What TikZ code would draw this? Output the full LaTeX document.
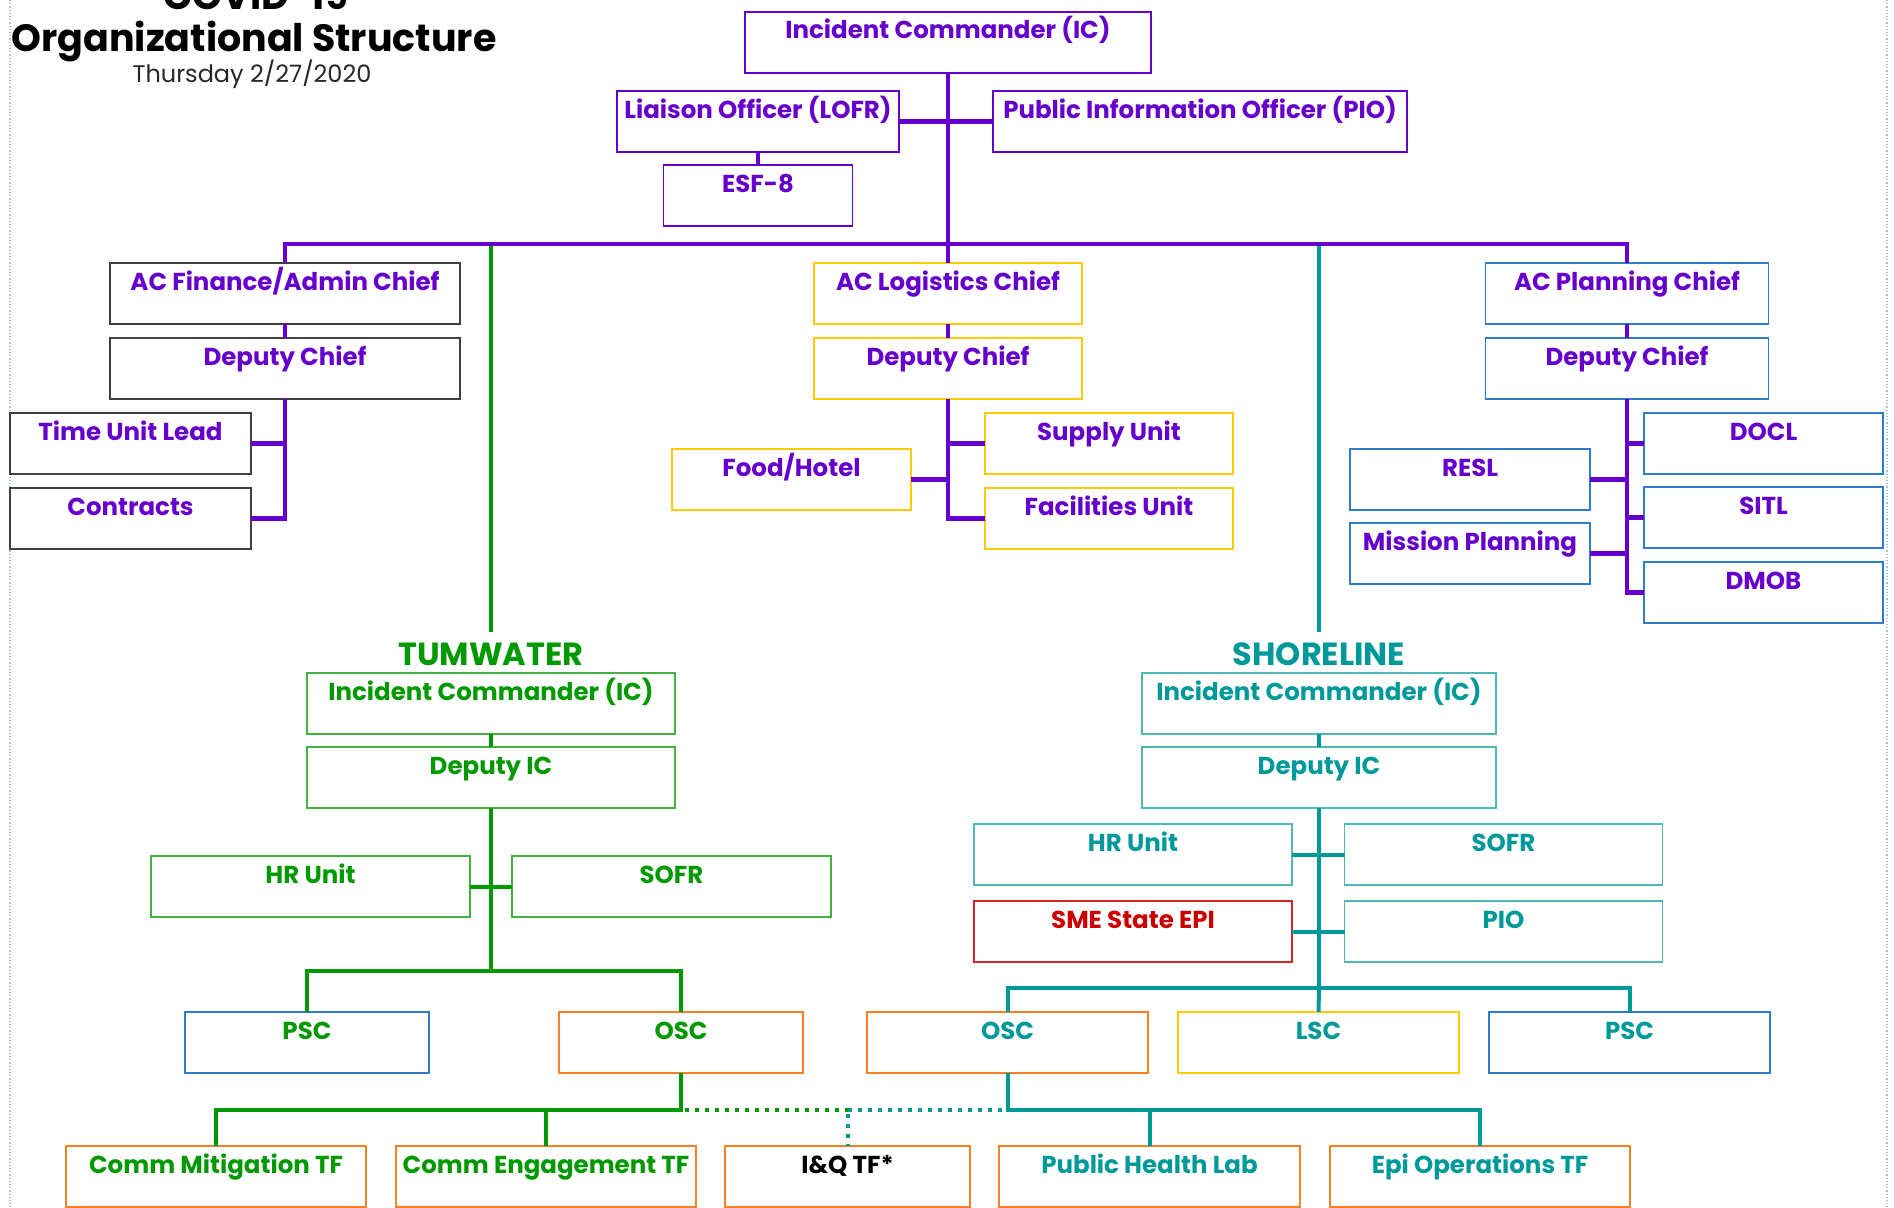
\documentclass[tikz,border=0pt]{standalone}
\usepackage{fontspec}
\setmainfont{Poppins}
\usetikzlibrary{positioning}

\definecolor{icpurple}{HTML}{6600CC}
\definecolor{twgreen}{HTML}{009900}
\definecolor{shteal}{HTML}{009999}
\definecolor{smered}{HTML}{CC0000}
\definecolor{logyellow}{HTML}{FFCC00}
\definecolor{planblue}{HTML}{2E7BCF}
\definecolor{oscorange}{HTML}{FF7F27}
\definecolor{finframe}{HTML}{404040}
\definecolor{pageblue}{HTML}{9DC3E6}

\begin{document}
\begin{tikzpicture}[
    x=1pt, y=-1pt,
    node distance=14pt,
    orgbox/.style={
        rectangle, line width=1.5pt, inner sep=0pt, outer sep=0pt,
        text height=27pt, text depth=34pt, anchor=north,
        font=\fontsize{24.5}{24.5}\selectfont\bfseries
    },
    cmdbox/.style={orgbox, draw=icpurple, text=icpurple},
    finbox/.style={orgbox, draw=finframe, text=icpurple},
    logbox/.style={orgbox, draw=logyellow, text=icpurple},
    planbox/.style={orgbox, draw=planblue, text=icpurple},
    twbox/.style={orgbox, draw=twgreen!75, text=twgreen},
    shbox/.style={orgbox, draw=shteal!70, text=shteal},
    tfbox/.style={orgbox, draw=oscorange},
    sitelabel/.style={inner sep=0pt, font=\fontsize{32}{32}\selectfont\bfseries},
    purpleline/.style={draw=icpurple, line width=4.5pt},
    greenline/.style={draw=twgreen, line width=4pt},
    tealline/.style={draw=shteal, line width=4pt},
    linkdots/.style={line width=4pt, dash pattern=on 4pt off 6pt},
    pageedge/.style={draw=pageblue, line width=1.2pt, dotted},
]

\useasboundingbox (0,0) rectangle (1894,1207);
\draw[pageedge] (10,0) -- (10,1207);
\draw[pageedge] (1887,0) -- (1887,1207);

% Title
\node[anchor=base, inner sep=0pt, font=\fontsize{38}{38}\selectfont\bfseries] (covid) at (256,10) {COVID-19};
\node[anchor=base, inner sep=0pt, font=\fontsize{38}{38}\selectfont\bfseries] (orgtitle) at (254,52) {Organizational Structure};
\node[anchor=base, inner sep=0pt, font=\fontsize{24}{24}\selectfont, text=black!85] (datestamp) at (252,82) {Thursday 2/27/2020};

% Command staff
\node[cmdbox, minimum width=406pt] (ic) at (948,12) {Incident Commander (IC)};
\node[cmdbox, minimum width=282pt] (lofr) at (758,91) {Liaison Officer (LOFR)};
\node[cmdbox, minimum width=414pt] (pio) at (1200,91) {Public Information Officer (PIO)};
\node[cmdbox, minimum width=189pt, below=13pt of lofr] (esf) {ESF-8};
\coordinate (mainbar) at (948,244);

% Finance/Admin
\node[finbox, minimum width=350pt] (fin) at (285,263) {AC Finance/Admin Chief};
\node[finbox, minimum width=350pt, below=of fin] (findep) {Deputy Chief};
\node[finbox, minimum width=241pt] (timeunit) at (130.5,413) {Time Unit Lead};
\node[finbox, minimum width=241pt, below=of timeunit] (contracts) {Contracts};

% Logistics
\node[logbox, minimum width=268pt] (logc) at (948,263) {AC Logistics Chief};
\node[logbox, minimum width=268pt, below=of logc] (logdep) {Deputy Chief};
\node[logbox, minimum width=248pt] (supply) at (1109,413) {Supply Unit};
\node[logbox, minimum width=248pt, below=of supply] (facil) {Facilities Unit};
\node[logbox, minimum width=239pt] (food) at (791.5,449) {Food/Hotel};

% Planning
\node[planbox, minimum width=283pt] (planc) at (1627,263) {AC Planning Chief};
\node[planbox, minimum width=283pt, below=of planc] (plandep) {Deputy Chief};
\node[planbox, minimum width=239pt] (docl) at (1763.5,413) {DOCL};
\node[planbox, minimum width=239pt, below=13pt of docl] (sitl) {SITL};
\node[planbox, minimum width=239pt, below=of sitl] (dmob) {DMOB};
\node[planbox, minimum width=240pt] (resl) at (1470,449) {RESL};
\node[planbox, minimum width=240pt, below=13pt of resl] (mission) {Mission Planning};

% Tumwater
\node[sitelabel, text=twgreen] (twlabel) at (491,654) {TUMWATER};
\node[twbox, minimum width=368pt] (twic) at (491,673) {Incident Commander (IC)};
\node[twbox, minimum width=368pt, below=13pt of twic] (twdep) {Deputy IC};
\node[twbox, minimum width=319pt] (twhr) at (310.5,856) {HR Unit};
\node[twbox, minimum width=319pt] (twsofr) at (671.5,856) {SOFR};
\node[twbox, draw=planblue, minimum width=244pt] (twpsc) at (307,1012) {PSC};
\node[twbox, draw=oscorange, minimum width=244pt] (twosc) at (681,1012) {OSC};
\coordinate (twbar) at (491,971);

% Shoreline
\node[sitelabel, text=shteal] (shlabel) at (1319,654) {SHORELINE};
\node[shbox, minimum width=354pt] (shic) at (1319,673) {Incident Commander (IC)};
\node[shbox, minimum width=354pt, below=13pt of shic] (shdep) {Deputy IC};
\node[shbox, minimum width=318pt] (shhr) at (1133,824) {HR Unit};
\node[shbox, minimum width=318pt] (shsofr) at (1503.5,824) {SOFR};
\node[shbox, draw=smered!85, text=smered, minimum width=318pt] (shsme) at (1133,901) {SME State EPI};
\node[shbox, minimum width=318pt] (shpio) at (1503.5,901) {PIO};
\node[shbox, draw=oscorange, minimum width=281pt] (shosc) at (1007.5,1012) {OSC};
\node[shbox, draw=logyellow, minimum width=281pt] (shlsc) at (1318.5,1012) {LSC};
\node[shbox, draw=planblue, minimum width=281pt] (shpsc) at (1629.5,1012) {PSC};
\coordinate (shbar) at (1319,988);

% Task forces
\coordinate (tfbar) at (0,1110);
\node[tfbox, text=twgreen, minimum width=300pt] (cmtf) at (216,1146) {Comm Mitigation TF};
\node[tfbox, text=twgreen, minimum width=300pt] (cetf) at (546,1146) {Comm Engagement TF};
\node[tfbox, text=black, minimum width=245pt] (iqtf) at (847.5,1146) {I\&Q TF*};
\node[tfbox, text=shteal, minimum width=301pt] (phl) at (1149.5,1146) {Public Health Lab};
\node[tfbox, text=shteal, minimum width=300pt] (epitf) at (1480,1146) {Epi Operations TF};

% Connectors
\draw[greenline] (twlabel.north |- mainbar) -- ([yshift=10pt]twlabel.north);
\draw[tealline] (shlabel.north |- mainbar) -- ([yshift=10pt]shlabel.north);

\draw[purpleline] (ic) -- (mainbar);
\draw[purpleline] (lofr) -- (pio);
\draw[purpleline] (lofr) -- (esf);
\draw[purpleline] (fin.north) |- (planc.north |- mainbar) -- (planc.north);
\draw[purpleline] (mainbar) -- (logc);

\draw[purpleline] (fin) -- (findep);
\draw[purpleline] (findep.south) |- (contracts.east);
\draw[purpleline] (timeunit.east) -| (findep.south);

\draw[purpleline] (logc) -- (logdep);
\draw[purpleline] (logdep.south) |- (facil.west);
\draw[purpleline] (supply.west) -| (logdep.south);
\draw[purpleline] (food.east) -| (logdep.south);

\draw[purpleline] (planc) -- (plandep);
\draw[purpleline] (plandep.south) |- (dmob.west);
\draw[purpleline] (docl.west) -| (plandep.south);
\draw[purpleline] (sitl.west) -| (plandep.south);
\draw[purpleline] (resl.east) -| (plandep.south);
\draw[purpleline] (mission.east) -| (plandep.south);

\draw[greenline] (twic) -- (twdep);
\draw[greenline] (twdep) -- (twbar);
\draw[greenline] (twhr) -- (twsofr);
\draw[greenline] (twpsc.north) |- (twbar) -| (twosc.north);
\draw[greenline] (twosc.south) |- (cmtf.north |- tfbar) -- (cmtf.north);
\draw[greenline] (cetf.north) -- (cetf.north |- tfbar);

\draw[tealline] (shic) -- (shdep);
\draw[tealline] (shdep) -- (shbar);
\draw[tealline] (shhr) -- (shsofr);
\draw[tealline] (shsme) -- (shpio);
\draw[tealline] (shosc.north) |- (shbar) -| (shpsc.north);
\draw[tealline] (shbar) -- (shlsc.north);
\draw[tealline] (shosc.south) |- (epitf.north |- tfbar) -- (epitf.north);
\draw[tealline] (phl.north) -- (phl.north |- tfbar);

\draw[linkdots, draw=twgreen] ([xshift=4pt]twosc.south |- tfbar) -- (iqtf.north |- tfbar);
\draw[linkdots, draw=shteal] (iqtf.north |- tfbar) -- ([xshift=-4pt]shosc.south |- tfbar);
\draw[linkdots, draw=shteal] ([yshift=-4pt]iqtf.north |- tfbar) -- (iqtf.north);

\end{tikzpicture}
\end{document}
